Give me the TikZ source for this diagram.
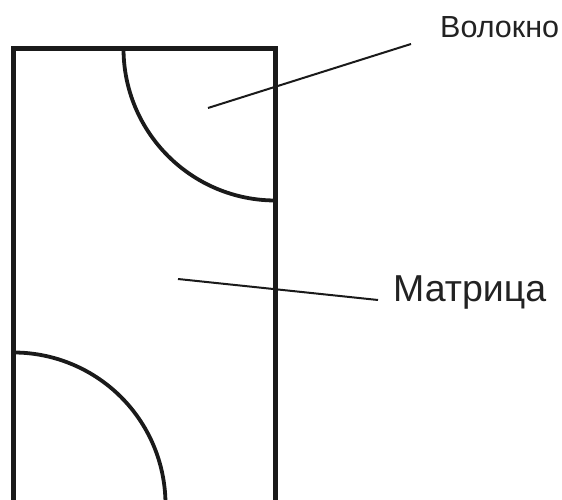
\documentclass[tikz,border=0pt]{standalone}
\usepackage{fontspec}
\setmainfont{Liberation Sans}
\usepackage{xcolor}
\usepackage{tikz}
\usetikzlibrary{positioning,calc}
\definecolor{ink}{RGB}{26,26,26}
\definecolor{labeltext}{RGB}{34,34,34}
\tikzset{
    cell/.style={draw=ink, line width=4.8pt, line join=miter},
    fiber/.style={draw=ink, line width=3.8pt},
    leader/.style={draw=ink, line width=2pt},
    label/.style={font=\fontsize{30.5}{33}\selectfont, text=labeltext, inner sep=0pt, anchor=base west}
}

\begin{document}
\begin{tikzpicture}[x=1pt,y=1pt]
\useasboundingbox (0,0) rectangle (562,500);
\clip (0,0) rectangle (562,500);
% matrix cell, open at the bottom
\draw[cell] (13.5,-10) -- (13.5,451.5) -- (275.5,451.5) -- (275.5,-10);
% fibre quarters
\draw[fiber] (123.5,451.5) arc[start angle=180, end angle=270, radius=152];
\draw[fiber] (13.5,147.5) arc[start angle=90, end angle=-10, radius=152];
% labels
\node[label] (volokno) at (440,462.3) {Волокно};
\node[label, font=\fontsize{37.5}{40}\selectfont] (matrica) at (393,198) {Матрица};
\coordinate (fibtip) at (208,392);
\coordinate (fibend) at (411,456);
\coordinate (mattip) at (178,221);
\coordinate (matend) at (378,200);
\draw[leader] (fibtip) -- (fibend);
\draw[leader] (mattip) -- (matend);
\end{tikzpicture}
\end{document}
